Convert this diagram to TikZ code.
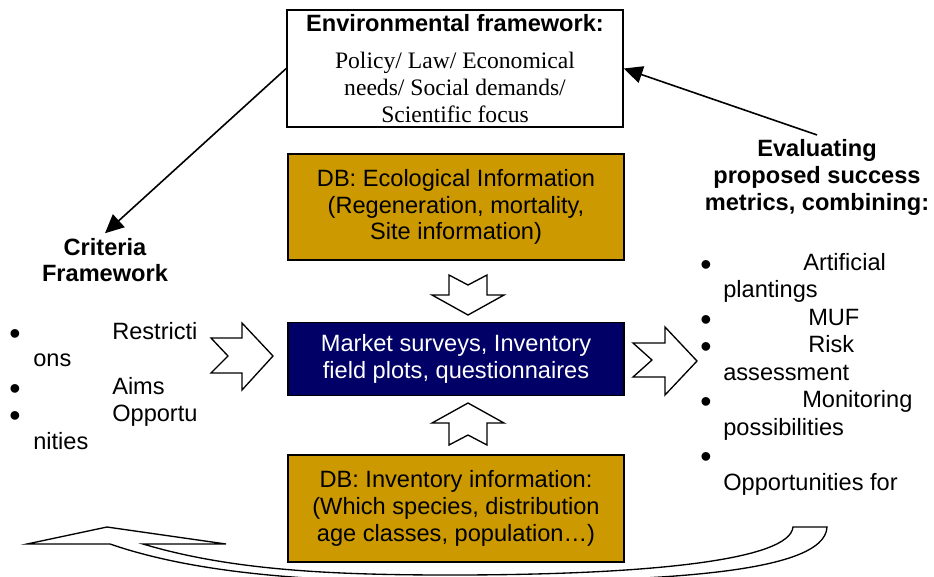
\documentclass[tikz,border=0pt]{standalone}
\usepackage{fontspec}
\setmainfont{Liberation Sans}
\newfontfamily\garafont{Liberation Serif}
\usetikzlibrary{arrows.meta,positioning,calc}
\definecolor{gold}{RGB}{204,153,0}
\definecolor{navy}{RGB}{0,0,102}
\newcommand{\txtsize}{\fontsize{17.7}{20.1}\selectfont}

\begin{document}
\begin{tikzpicture}[x=0.75pt,y=-0.75pt,
  box/.style={draw, line width=1.2pt, minimum width=252pt, align=center, font=\txtsize},
  blockarrow/.style={draw, fill=white, line width=1pt, line join=miter},
  link/.style={line width=1.2pt, -{Triangle[length=14pt,width=13pt]}},
  title/.style={font=\txtsize\bfseries, align=center},
  item/.style={anchor=base west, font=\txtsize, inner sep=0pt},
  dot/.style={font=\fontsize{24}{24}\selectfont, inner sep=0pt}]
\useasboundingbox (0,0) rectangle (934,576);

% Boxes
\node[box, minimum height=84.75pt] (env) at (455,68.5)
  {\textbf{Environmental framework:}\\[8pt]{\garafont Policy/ Law/ Economical}\\{\garafont needs/ Social demands/}\\{\garafont Scientific focus}};
\node[box, fill=gold, minimum height=79.5pt] (eco) at (456,207)
  {DB: Ecological Information\\(Regeneration, mortality,\\Site information)};
\node[box, fill=navy, text=white, minimum height=54.75pt] (mkt) at (456,359)
  {Market surveys, Inventory\\field plots, questionnaires};
\node[box, fill=gold, minimum height=80.25pt] (inv) at (456,508.5)
  {DB: Inventory information:\\(Which species, distribution\\age classes, population…)};

% Titles
\node[title] (crit) at (105,260) {Criteria\\Framework};
\node[title] (eval) at (817,177.5) {Evaluating\\proposed success\\metrics, combining:};

% Arrows to and from the framework
\draw[link] (env.west) -- (crit.north);
\draw[link] (eval.north) -- (env.east);

% Block arrows
\draw[blockarrow] (449,275) -- (468,285) -- (487,275) -- (487,295) -- (504,295) -- (468,315) -- (432,295) -- (449,295) -- cycle;
\draw[blockarrow] (449,445) -- (468,435) -- (487,445) -- (487,423) -- (504,423) -- (468,403) -- (432,423) -- (449,423) -- cycle;
\draw[blockarrow] (211,338) -- (242,338) -- (242,323) -- (273,356) -- (242,390) -- (242,373) -- (211,373) -- (228,356) -- cycle;
\draw[blockarrow] (633,343) -- (665,343) -- (665,327) -- (697,361) -- (665,395) -- (665,377) -- (633,377) -- (652,360) -- cycle;

% Criteria list
\node[dot] (lb1) at (15,337) {•};
\node[item] (restr) at (112,339) {Restricti};
\node[item] (restr2) at (33,366.5) {ons};
\node[dot] (lb2) at (15,392) {•};
\node[item] (aims) at (112,394) {Aims};
\node[dot] (lb3) at (15,419.5) {•};
\node[item] (opp) at (112,421.5) {Opportu};
\node[item] (opp2) at (33,449) {nities};

% Success metrics list
\node[dot] (rb1) at (706,268) {•};
\node[item] (art) at (803,270) {Artificial};
\node[item] (art2) at (723,297.5) {plantings};
\node[dot] (rb2) at (706,323) {•};
\node[item] (muf) at (808,325) {MUF};
\node[dot] (rb3) at (706,350.5) {•};
\node[item] (risk) at (808,352.5) {Risk};
\node[item] (risk2) at (723,380) {assessment};
\node[dot] (rb4) at (706,405.5) {•};
\node[item] (mon) at (802,407.5) {Monitoring};
\node[item] (mon2) at (723,435) {possibilities};
\node[dot] (rb5) at (706,460.5) {•};
\node[item] (oppf) at (723,490) {Opportunities for};

% Feedback arrow
\draw[blockarrow] (27,544) -- (107,527) -- (226,544) -- (143,544)
  .. controls (230,570) and (330,575) .. (450,575)
  .. controls (650,575) and (790,560) .. (793,527)
  -- (827,527)
  .. controls (825,575) and (650,582) .. (450,582)
  .. controls (320,582) and (200,575) .. (110,544) -- cycle;
\end{tikzpicture}
\end{document}
